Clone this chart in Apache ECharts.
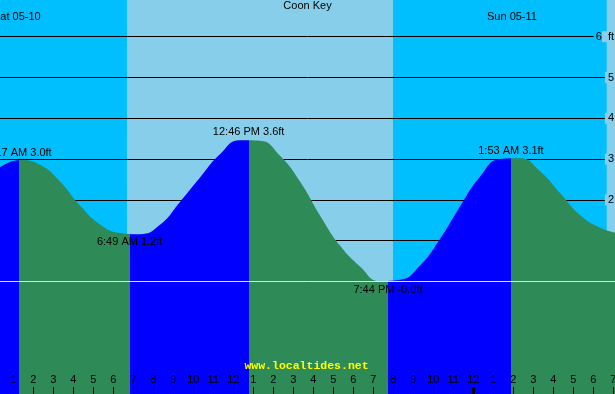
<!DOCTYPE html>
<html><head><meta charset="utf-8">
<script src="https://cdn.jsdelivr.net/npm/echarts@6/dist/echarts.min.js"></script>
<style>html,body{margin:0;padding:0;background:#00BFFF;overflow:hidden}#c{width:615px;height:394px}</style>
</head><body><div id="c"></div>
<script>
const stationName = 'Coon Key';
const dayLabels = ['Sat 05-10', 'Sun 05-11'];
const site = 'www.localtides.net';
// hours since Sat 00:00 and water level (ft)
const tideHours = [0.3, 1.335, 2.335, 3.335, 4.335, 5.335, 6.335, 7.335, 8.335, 9.335, 10.335, 11.335, 12.335, 13.335, 14.335, 15.335, 16.335, 17.335, 18.335, 19.335, 20.335, 21.335, 22.335, 23.335, 24.335, 25.335, 26.335, 27.335, 28.335, 29.335, 30.335, 31.1];
const tideFeet  = [2.79, 2.98, 2.86, 2.45, 1.86, 1.40, 1.19, 1.16, 1.39, 1.95, 2.55, 3.12, 3.46, 3.45, 3.08, 2.45, 1.62, 0.88, 0.37, 0.01, 0.04, 0.39, 1.04, 1.84, 2.57, 3.00, 3.02, 2.70, 2.17, 1.63, 1.32, 1.20];
const extremeHours  = [1.283, 6.817, 12.767, 19.733, 25.883];
const extremeFeet   = [2.99, 1.15, 3.50, -0.02, 3.05];
const extremeKind   = ['high', 'low', 'high', 'low', 'high'];
const extremeLabels = ['1:17 AM 3.0ft', '6:49 AM 1.2ft', '12:46 PM 3.6ft', '7:44 PM -0.0ft', '1:53 AM 3.1ft'];
const sunrise = [6.685, 30.67];
const sunset  = [19.985, 32];
const hourLabels = ['12','1','2','3','4','5','6','7','8','9','10','11','12','1','2','3','4','5','6','7','8','9','10','11','12','1','2','3','4','5','6','7','8'];
const yTicks = [-2, -1, 0, 1, 2, 3, 4, 5, 6];
const yTickLabels = ['-2', '-1', '0', '1', '2', '3', '4', '5', '6 ft'];

const FONT = '"Liberation Sans", Arial, sans-serif';
const BLUE = '#0000FF', GREEN = '#2E8B57', SKY = '#00BFFF', DAY = '#87CEEB';

const pieces = [];
for (let i = 0; i <= extremeHours.length; i++) {
  const rising = i < extremeHours.length ? extremeKind[i] === 'high' : extremeKind[i - 1] === 'low';
  const p = { color: rising ? BLUE : GREEN };
  if (i > 0) p.gte = extremeHours[i - 1];
  if (i < extremeHours.length) p.lt = extremeHours[i];
  pieces.push(p);
}

const chart = echarts.init(document.getElementById('c'), null, { renderer: 'canvas' });
chart.setOption({
  animation: false,
  backgroundColor: SKY,
  title: { text: stationName, left: 'center', top: 0, padding: 0,
    textStyle: { fontSize: 11, fontWeight: 'normal', color: '#000', fontFamily: FONT } },
  grid: { left: -6.7, right: -18.3, top: -4.1, bottom: -9.9, containLabel: false, outerBoundsMode: 'none' },
  xAxis: [{
    type: 'value', min: 0, max: 32, interval: 1, position: 'bottom', offset: -9.9, z: 10,
    axisLine: { show: false, onZero: false }, splitLine: { show: false },
    axisTick: { inside: true, length: 7, lineStyle: { color: '#000', width: 1 } },
    axisLabel: { inside: true, margin: 9, color: '#000', fontSize: 11, fontFamily: FONT, hideOverlap: false,
      formatter: v => hourLabels[v] !== undefined ? hourLabels[v] : '' }
  }, {
    type: 'value', min: 0, max: 32, interval: 24, position: 'bottom', offset: -9.9, z: 10,
    axisLine: { show: false, onZero: false }, splitLine: { show: false }, axisLabel: { show: false },
    axisTick: { inside: true, length: 7, lineStyle: { color: '#000', width: 3 } }
  }],
  yAxis: {
    type: 'value', min: -3, max: 7, interval: 1, position: 'right', offset: -18.3,
    axisLine: { show: false, onZero: false }, axisTick: { show: false },
    splitLine: { show: true, lineStyle: { color: '#000', width: 1 } },
    axisLabel: { inside: true, margin: 0, color: '#000', fontSize: 11, fontFamily: FONT,
      formatter: v => {
        const i = yTicks.indexOf(v);
        if (i < 0) return '';
        const t = yTickLabels[i];
        if (v >= 2 && v <= 5) return '{l|' + t + '}';
        if (v === 6) { const parts = t.split(' '); return '{c|' + parts[0] + '}{l| ' + parts[1] + '}'; }
        return t;
      },
      rich: {
        l: { backgroundColor: DAY, color: '#000', fontSize: 11, fontFamily: FONT, padding: [0, 1, 0, 3] },
        c: { backgroundColor: SKY, color: '#000', fontSize: 11, fontFamily: FONT, padding: [0, 0, 0, 2] }
      }
    }
  },
  visualMap: { type: 'piecewise', show: false, dimension: 0, seriesIndex: 1, pieces: pieces },
  series: [{
    type: 'custom', z: -1, silent: true, xAxisIndex: 0,
    data: sunrise.map((s, i) => [s, sunset[i], 0]),
    encode: { x: [0, 1], y: 2 },
    renderItem: (params, api) => {
      const a = api.coord([api.value(0), 0]);
      const b = api.coord([api.value(1), 0]);
      return { type: 'rect',
        shape: { x: a[0], y: params.coordSys.y, width: b[0] - a[0], height: params.coordSys.height },
        style: { fill: DAY } };
    },
    markLine: { silent: true, z: 6, symbol: ['none', 'none'], label: { show: false },
      lineStyle: { color: '#FFFF00', width: 1, type: 'solid', opacity: 1 },
      emphasis: { disabled: true },
      data: [{ yAxis: 0 }] }
  }, {
    type: 'line', xAxisIndex: 0, smooth: 0.5, showSymbol: false, symbol: 'none',
    silent: true, emphasis: { disabled: true },
    lineStyle: { width: 0 },
    areaStyle: { opacity: 1, origin: 'start' },
    data: tideHours.map((h, i) => [h, tideFeet[i]]),
    markPoint: { silent: true, symbol: 'circle', symbolSize: 0, itemStyle: { color: 'transparent' },
      data: extremeHours.map((h, i) => ({
        coord: [h, extremeFeet[i]],
        label: { show: true, position: extremeKind[i] === 'high' ? 'top' : 'bottom',
          distance: extremeKind[i] === 'high' ? 1 : 2,
          formatter: extremeLabels[i], color: '#000', fontSize: 11, fontFamily: FONT }
      })) }
  }],
  graphic: [
    { type: 'text', x: -7, y: 17, z: 10, silent: true,
      style: { text: dayLabels[0], align: 'left', verticalAlign: 'middle', font: '11px ' + FONT, fill: '#000' } },
    { type: 'text', x: 487, y: 17, z: 10, silent: true,
      style: { text: dayLabels[1], align: 'left', verticalAlign: 'middle', font: '11px ' + FONT, fill: '#000' } },
    { type: 'text', x: 306.5, y: 366, z: 10, silent: true,
      style: { text: site, align: 'center', verticalAlign: 'middle', font: 'bold 11.5px "Liberation Mono", monospace', fill: '#FFFF00' } }
  ]
});
</script></body></html>
